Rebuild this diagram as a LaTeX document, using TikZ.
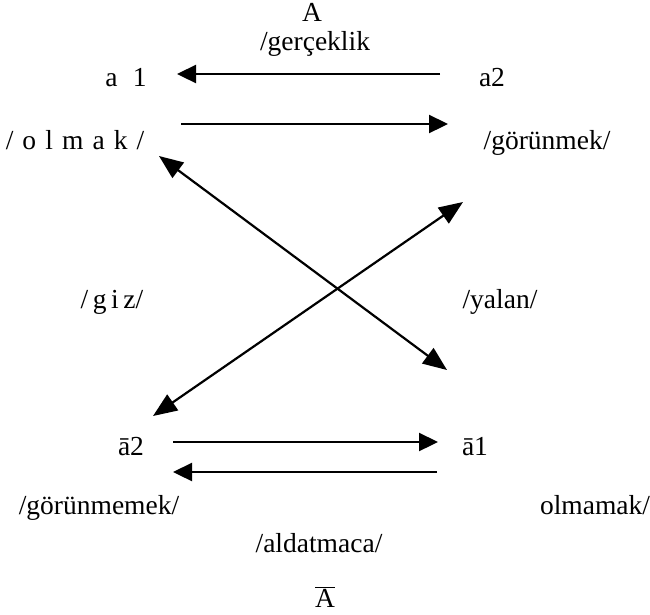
\documentclass[tikz,border=0pt]{standalone}
\usepackage{fontspec}
\setmainfont{Liberation Serif}
\usetikzlibrary{arrows.meta}
\tikzset{
  lbl/.style={inner sep=0pt,anchor=base,font=\fontsize{27.5}{32}\selectfont},
  harrow/.style={-{Triangle[length=19pt,width=18pt]},line width=2.3pt},
  xarrow/.style={{Triangle[length=24pt,width=19pt]}-{Triangle[length=24pt,width=19pt]},line width=2.2pt}
}

\begin{document}
\begin{tikzpicture}[x=1pt,y=-1pt]
  \useasboundingbox (0,0) rectangle (650,614);
  % top square: A
  \node[lbl] (A) at (312,21) {A};
  \node[lbl] (ger) at (315,50) {/gerçeklik};
  \node[lbl] (a1) at (126,86) {a\hspace{0.55em}1};
  \node[lbl] (a2) at (492,86) {a2};
  \node[lbl] (olmak) at (75,149) {/\hspace{0.33em}o\hspace{0.33em}l\hspace{0.33em}m\hspace{0.33em}a\hspace{0.33em}k\hspace{0.33em}/};
  \node[lbl] (gorun) at (547,149) {/görünmek/};
  % middle labels
  \node[lbl] (giz) at (112,308) {/\,g\,i\,z/};
  \node[lbl] (yalan) at (500,308) {/yalan/};
  % bottom square: not-A
  \node[lbl] (na2) at (131,455) {ā2};
  \node[lbl] (na1) at (475,455) {ā1};
  \node[lbl] (gorunme) at (99,514) {/görünmemek/};
  \node[lbl] (olmama) at (595,514) {olmamak/};
  \node[lbl] (aldat) at (319,552) {/aldatmaca/};
  \node[lbl] (nA) at (325,607) {$\overline{\mbox{A}}$};
  % arrow ends
  \coordinate (t1) at (440,74);  \coordinate (t2) at (177,74);
  \coordinate (s1) at (181,124); \coordinate (s2) at (448,124);
  \coordinate (d1) at (159,156); \coordinate (d2) at (447,370);
  \coordinate (e1) at (463,202); \coordinate (e2) at (153,416);
  \coordinate (b1) at (173,442); \coordinate (b2) at (438,442);
  \coordinate (c1) at (437,472); \coordinate (c2) at (173,472);
  % horizontal arrows
  \draw[harrow] (t1) -- (t2);
  \draw[harrow] (s1) -- (s2);
  \draw[harrow] (b1) -- (b2);
  \draw[harrow] (c1) -- (c2);
  % the cross
  \draw[xarrow] (d1) -- (d2);
  \draw[xarrow] (e1) -- (e2);
\end{tikzpicture}
\end{document}
